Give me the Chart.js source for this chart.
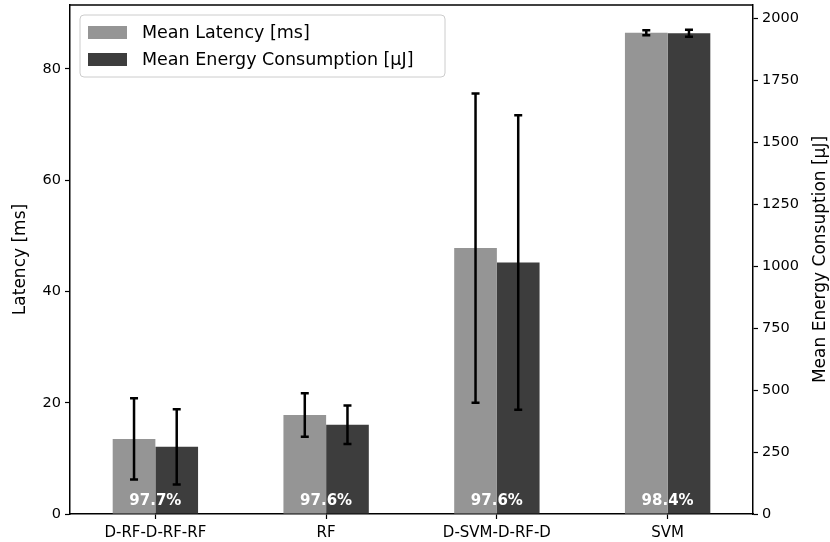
<!DOCTYPE html>
<html>
<head>
<meta charset="utf-8">
<script src="https://cdn.jsdelivr.net/npm/chart.js@4"></script>
<style>
  html, body { margin: 0; padding: 0; background: #fff; }
  #wrap { width: 830px; height: 542px; }
</style>
</head>
<body>
<div id="wrap"><canvas id="chart" width="830" height="542"></canvas></div>
<script>
const categories = ['D-RF-D-RF-RF', 'RF', 'D-SVM-D-RF-D', 'SVM'];
const latencyMean = [13.5, 17.8, 47.8, 86.5];
const latencyErr = [7.3, 3.9, 27.8, 0.45];
const energyMean = [271, 360, 1014, 1939];
const energyErr = [152, 78, 594, 14];
const accuracy = ['97.7%', '97.6%', '97.6%', '98.4%'];
const latencyTicks = [0, 20, 40, 60, 80];
const energyTicks = [0, 250, 500, 750, 1000, 1250, 1500, 1750, 2000];

const FONT = 'DejaVu Sans';
const GRAY = '#959595';
const DARK = '#3d3d3d';
const RIGHT_TITLE = 'Mean Energy Consuption [\u00b5J]';

// error bars, accuracy labels, legend, top spine, right axis title
const extras = {
  id: 'extras',
  afterDatasetsDraw(chart) {
    const ctx = chart.ctx;
    const area = chart.chartArea;
    const sets = [
      { scale: chart.scales.y, mean: latencyMean, err: latencyErr, idx: 0 },
      { scale: chart.scales.y1, mean: energyMean, err: energyErr, idx: 1 }
    ];
    ctx.save();
    ctx.strokeStyle = '#000';
    ctx.lineWidth = 2.5;
    sets.forEach(s => {
      const meta = chart.getDatasetMeta(s.idx);
      meta.data.forEach((bar, i) => {
        const x = bar.x;
        const top = s.scale.getPixelForValue(s.mean[i] + s.err[i]);
        const bot = s.scale.getPixelForValue(s.mean[i] - s.err[i]);
        ctx.beginPath();
        ctx.moveTo(x, top); ctx.lineTo(x, bot);
        ctx.moveTo(x - 4, top); ctx.lineTo(x + 4, top);
        ctx.moveTo(x - 4, bot); ctx.lineTo(x + 4, bot);
        ctx.stroke();
      });
    });

    // accuracy text
    ctx.fillStyle = '#fff';
    ctx.font = 'bold 15px "' + FONT + '"';
    ctx.textAlign = 'center';
    ctx.textBaseline = 'middle';
    categories.forEach((c, i) => {
      const x = chart.scales.x.getPixelForValue(i);
      ctx.fillText(accuracy[i], x, area.bottom - 13);
    });

    // top spine
    ctx.strokeStyle = '#000';
    ctx.lineWidth = 1.5;
    ctx.beginPath();
    ctx.moveTo(area.left, area.top);
    ctx.lineTo(area.right, area.top);
    ctx.stroke();

    // legend
    const lx = area.left + 10, ly = area.top + 10, lw = 365, lh = 62;
    ctx.fillStyle = 'rgba(255,255,255,0.8)';
    ctx.strokeStyle = '#cccccc';
    ctx.lineWidth = 1;
    ctx.beginPath();
    ctx.roundRect(lx, ly, lw, lh, 4);
    ctx.fill();
    ctx.stroke();
    const items = [
      { label: chart.data.datasets[0].label, color: GRAY },
      { label: chart.data.datasets[1].label, color: DARK }
    ];
    ctx.font = '17.5px "' + FONT + '"';
    ctx.textAlign = 'left';
    items.forEach((it, i) => {
      const cy = ly + 17 + i * 27;
      ctx.fillStyle = it.color;
      ctx.fillRect(lx + 8, cy - 6, 39, 13);
      ctx.fillStyle = '#000';
      ctx.fillText(it.label, lx + 62, cy + 1);
    });

    // right axis title, reading bottom to top
    ctx.translate(821, (area.top + area.bottom) / 2);
    ctx.rotate(-Math.PI / 2);
    ctx.font = '17px "' + FONT + '"';
    ctx.textAlign = 'center';
    ctx.fillStyle = '#000';
    ctx.fillText(RIGHT_TITLE, 0, 0);
    ctx.restore();
  }
};

function noPad(axis) {
  axis.paddingTop = 0;
  axis.paddingBottom = 0;
}

new Chart(document.getElementById('chart'), {
  type: 'bar',
  data: {
    labels: categories,
    datasets: [
      { label: 'Mean Latency [ms]', data: latencyMean, backgroundColor: GRAY, yAxisID: 'y',
        categoryPercentage: 0.5, barPercentage: 1.0 },
      { label: 'Mean Energy Consumption [\u00b5J]', data: energyMean, backgroundColor: DARK, yAxisID: 'y1',
        categoryPercentage: 0.5, barPercentage: 1.0 }
    ]
  },
  options: {
    responsive: false,
    animation: false,
    layout: { padding: { top: 5, left: 0, right: 0, bottom: 0 } },
    plugins: {
      legend: { display: false },
      tooltip: { enabled: false }
    },
    scales: {
      x: {
        grid: { display: true, drawOnChartArea: false, offset: false, tickLength: 5, tickColor: '#000', tickWidth: 1.2 },
        border: { display: true, color: '#000', width: 1.5 },
        ticks: { color: '#000', font: { family: FONT, size: 15 }, padding: 5, maxRotation: 0 },
        afterFit(axis) { axis.height = 28; axis.paddingLeft = 0; axis.paddingRight = 0; }
      },
      y: {
        position: 'left',
        min: 0, max: 91.5,
        afterBuildTicks(axis) { axis.ticks = latencyTicks.map(v => ({ value: v })); },
        grid: { drawOnChartArea: false, tickLength: 5, tickColor: '#000', tickWidth: 1.2 },
        border: { display: true, color: '#000', width: 1.5 },
        ticks: { color: '#000', font: { family: FONT, size: 14.5 }, padding: 4 },
        title: { display: true, text: 'Latency [ms]', color: '#000', font: { family: FONT, size: 17 }, padding: { top: 10, bottom: 0 } },
        afterFit(axis) { axis.width = 70; noPad(axis); }
      },
      y1: {
        position: 'right',
        min: 0, max: 2053,
        afterBuildTicks(axis) { axis.ticks = energyTicks.map(v => ({ value: v })); },
        grid: { drawOnChartArea: false, tickLength: 5, tickColor: '#000', tickWidth: 1.2 },
        border: { display: true, color: '#000', width: 1.5 },
        ticks: { color: '#000', font: { family: FONT, size: 14.5 }, padding: 4, callback: v => String(v) },
        afterFit(axis) { axis.width = 77; noPad(axis); }
      }
    }
  },
  plugins: [extras]
});
</script>
</body>
</html>
